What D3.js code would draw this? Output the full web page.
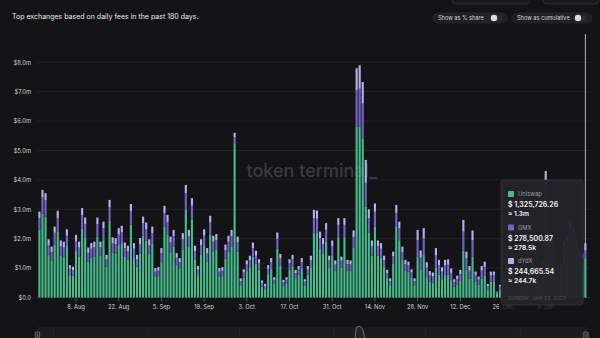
<!DOCTYPE html>
<html><head><meta charset="utf-8">
<script src="https://cdn.jsdelivr.net/npm/d3@7"></script>
<style>
html,body{margin:0;padding:0;background:#141417;}
svg{display:block;font-family:Inter,"Noto Sans",sans-serif;}
</style></head>
<body><svg id="c" width="600" height="338"></svg>
<script>
const title = "Top exchanges based on daily fees in the past 180 days.";
const startDate = "2022-07-27";
const endDate = "2023-01-22";
const seriesNames = ["Uniswap", "GMX", "dYdX"];
// daily fees in $m
const uniswap = [
2.30,2.85,2.75,1.45,1.25,1.80,2.25,1.42,1.40,1.75,
0.78,0.74,1.58,1.40,2.35,2.05,1.22,1.36,1.40,2.08,
1.42,1.95,1.05,2.60,1.52,1.50,1.78,1.85,1.38,1.30,
2.48,1.37,1.05,1.50,2.10,1.93,1.47,1.82,0.70,0.72,
1.22,2.42,2.15,1.54,1.73,1.10,0.97,1.64,3.00,1.73,
2.65,1.30,0.76,1.47,1.75,1.23,2.13,1.57,1.62,0.70,
0.72,1.33,1.57,1.74,5.25,1.55,0.42,0.67,0.90,1.03,
1.39,1.16,0.94,0.37,0.28,0.79,0.97,0.46,1.66,1.08,
0.39,0.46,0.94,1.06,0.66,0.77,0.97,0.41,0.77,1.03,
2.20,2.20,1.66,1.50,1.90,1.03,1.44,0.90,2.05,1.01,
2.05,0.92,0.90,1.70,5.80,5.80,5.40,3.10,2.20,1.42,
2.40,1.42,1.36,1.03,0.66,0.43,1.14,2.40,1.95,1.27,
0.92,0.88,0.67,0.43,1.40,0.96,1.45,0.72,0.54,0.51,
1.01,0.77,0.62,0.77,0.78,0.59,0.37,0.44,0.56,1.60,
0.94,0.64,1.38,0.53,0.43,0.64,0.73,0.27,0.53,0.53,
0.12,0.26,0.63,0.79,0.71,0.55,0.39,0.47,0.71,0.63,
0.55,0.71,0.86,0.55,0.47,0.94,3.20,1.40,1.48,1.17,
0.86,0.79,1.40,1.56,1.96,1.80,1.48,1.17,1.09,1.3257];
const gmx = [
0.40,0.55,0.55,0.33,0.30,0.40,0.45,0.32,0.30,0.35,
0.20,0.19,0.34,0.30,0.45,0.44,0.30,0.30,0.30,0.42,
0.29,0.40,0.25,0.47,0.33,0.32,0.36,0.37,0.30,0.28,
0.45,0.29,0.25,0.32,0.42,0.40,0.31,0.37,0.18,0.19,
0.28,0.45,0.42,0.33,0.36,0.25,0.23,0.34,0.55,0.36,
0.47,0.28,0.19,0.31,0.36,0.27,0.42,0.33,0.33,0.18,
0.19,0.28,0.33,0.35,0.20,0.32,0.14,0.18,0.22,0.24,
0.29,0.26,0.22,0.13,0.11,0.19,0.23,0.14,0.34,0.25,
0.13,0.14,0.22,0.24,0.17,0.18,0.23,0.13,0.18,0.24,
0.50,0.48,0.36,0.32,0.40,0.24,0.31,0.22,0.42,0.24,
0.42,0.22,0.22,0.36,1.25,1.30,1.20,0.80,0.50,0.32,
0.52,0.32,0.30,0.24,0.17,0.13,0.26,0.48,0.40,0.28,
0.22,0.21,0.18,0.13,0.55,0.40,0.56,0.30,0.22,0.21,
0.42,0.32,0.26,0.32,0.33,0.25,0.16,0.19,0.24,0.64,
0.39,0.27,0.56,0.22,0.18,0.27,0.31,0.12,0.22,0.22,
0.05,0.11,0.16,0.19,0.18,0.15,0.13,0.14,0.18,0.16,
0.15,0.18,0.21,0.15,0.14,0.22,0.65,0.31,0.32,0.27,
0.21,0.19,0.31,0.34,0.41,0.38,0.32,0.27,0.25,0.2785];
const dydx = [
0.22,0.26,0.25,0.20,0.18,0.21,0.25,0.20,0.20,0.22,
0.12,0.12,0.21,0.20,0.24,0.23,0.18,0.19,0.20,0.22,
0.19,0.23,0.15,0.25,0.20,0.20,0.22,0.22,0.19,0.18,
0.25,0.19,0.15,0.20,0.23,0.22,0.20,0.22,0.12,0.12,
0.18,0.25,0.24,0.20,0.21,0.16,0.14,0.21,0.28,0.21,
0.26,0.18,0.12,0.20,0.21,0.18,0.23,0.20,0.21,0.12,
0.12,0.19,0.20,0.21,0.15,0.20,0.09,0.11,0.14,0.15,
0.19,0.17,0.14,0.08,0.07,0.12,0.14,0.09,0.21,0.15,
0.08,0.09,0.14,0.15,0.11,0.12,0.14,0.08,0.12,0.15,
0.28,0.28,0.22,0.20,0.23,0.15,0.19,0.14,0.23,0.14,
0.23,0.14,0.14,0.22,0.75,0.80,0.73,0.78,0.30,0.20,
0.28,0.20,0.19,0.15,0.11,0.09,0.16,0.27,0.23,0.18,
0.14,0.13,0.11,0.09,0.35,0.24,0.35,0.18,0.14,0.13,
0.25,0.19,0.15,0.19,0.19,0.15,0.09,0.11,0.14,0.40,
0.23,0.16,0.34,0.13,0.10,0.16,0.18,0.07,0.13,0.13,
0.03,0.06,0.11,0.12,0.11,0.10,0.08,0.09,0.11,0.11,
0.10,0.11,0.13,0.10,0.09,0.14,0.45,0.19,0.20,0.16,
0.13,0.12,0.19,0.20,0.23,0.22,0.20,0.16,0.16,0.2447];
const yTicks = [0,1,2,3,4,5,6,7,8];
const yTickLabels = ["$0.0","$1.0m","$2.0m","$3.0m","$4.0m","$5.0m","$6.0m","$7.0m","$8.0m"];
const xTickDates = ["2022-08-08","2022-08-22","2022-09-05","2022-09-19","2022-10-03","2022-10-17","2022-10-31","2022-11-14","2022-11-28","2022-12-12","2022-12-26","2023-01-09"];
const xTickLabels = ["8. Aug","22. Aug","5. Sep","19. Sep","3. Oct","17. Oct","31. Oct","14. Nov","28. Nov","12. Dec","26. Dec","9. Jan"];
const monthStarts = ["2022-08-01","2022-09-01","2022-10-01","2022-11-01","2022-12-01","2023-01-01"];
const toggleLabels = ["Show as % share","Show as cumulative"];
const tooltipValues = ["$ 1,325,726.26","$ 278,500.87","$ 244,665.54"];
const tooltipApprox = ["\u2248 1.3m","\u2248 278.5k","\u2248 244.7k"];
const tooltipDate = "SUNDAY, JAN 22, 2023";
const watermark = "token terminal_";

const colors = {Uniswap:"#45ba8a", GMX:"#7064c6", dYdX:"#b7aef2"};
const parse = d3.timeParse("%Y-%m-%d");
const days = d3.timeDay.range(parse(startDate), d3.timeDay.offset(parse(endDate), 1));
const rows = days.map((d,i)=>({date:d, Uniswap:uniswap[i], GMX:gmx[i], dYdX:dydx[i]}));
const stacked = d3.stack().keys(seriesNames)(rows);

const svg = d3.select("#c");
svg.append("rect").attr("width",600).attr("height",338).attr("fill","#141417");

const x = d3.scaleBand().domain(days.map(d=>+d)).range([37.9, 586.9]).paddingInner(0.3).paddingOuter(0.15);
const y = d3.scaleLinear().domain([0,8]).range([297.5, 62.3]);

// top partial buttons
svg.append("rect").attr("x",452).attr("y",-12).attr("width",78).attr("height",16).attr("rx",4).attr("fill","#1a1a1e").attr("stroke","#2f2f35");
svg.append("rect").attr("x",543).attr("y",-12).attr("width",56).attr("height",16).attr("rx",4).attr("fill","#1a1a1e").attr("stroke","#2f2f35");

// title
svg.append("text").attr("x",12).attr("y",19).attr("fill","#e8e8ea").attr("font-size",7).text(title);

// toggles
const toggles = [{x:433,w:74,kx:494},{x:512,w:80,kx:578}];
toggles.forEach((t,i)=>{
  const g = svg.append("g");
  g.append("rect").attr("x",t.x).attr("y",13).attr("width",t.w).attr("height",10).attr("rx",5).attr("fill","#1f1f24").attr("stroke","#2c2c32").attr("stroke-width",0.6);
  g.append("rect").attr("x",t.kx-5).attr("y",14.5).attr("width",14).attr("height",7).attr("rx",3.5).attr("fill","#2a2a30");
  g.append("circle").attr("cx",t.kx).attr("cy",18).attr("r",3.2).attr("fill","#dcdcdc");
  g.append("text").attr("x",t.x+5).attr("y",20.2).attr("fill","#d6d6d8").attr("font-size",5.6).text(toggleLabels[i]);
});

// gridlines
svg.append("g").selectAll("line").data(yTicks).join("line")
  .attr("x1",37).attr("x2",590).attr("y1",d=>y(d)).attr("y2",d=>y(d))
  .attr("stroke",d=>d===0?"#34343a":"#26262b").attr("stroke-width",0.8);

// y axis
const yAxis = svg.append("g").attr("transform","translate(33,0)")
  .call(d3.axisLeft(y).tickValues(yTicks).tickSize(0).tickPadding(2).tickFormat((d,i)=>yTickLabels[i]));
yAxis.select(".domain").remove();
yAxis.selectAll("text").attr("fill","#cfcfd2").attr("font-size",5.8).attr("font-family","Inter,sans-serif");

// watermark
svg.append("text").attr("x",312).attr("y",177).attr("text-anchor","middle").attr("fill","#3a3a40").attr("font-size",18).attr("font-weight",500).text(watermark);

// crosshair line
const lastX = x(+days[days.length-1]) + x.bandwidth()/2;
svg.append("line").attr("x1",lastX).attr("x2",lastX).attr("y1",34).attr("y2",297.5).attr("stroke","#c8c8cc").attr("stroke-width",0.9);

// bars
svg.append("g").selectAll("g").data(stacked).join("g").attr("fill",d=>colors[d.key])
  .selectAll("rect").data(d=>d).join("rect")
  .attr("x",d=>x(+d.data.date)).attr("width",x.bandwidth())
  .attr("y",d=>y(d[1])).attr("height",d=>Math.max(0,y(d[0])-y(d[1])));

// x axis
const xAxis = svg.append("g").attr("transform","translate(0,297.5)")
  .call(d3.axisBottom(x).tickValues(xTickDates.map(s=>+parse(s))).tickSize(4).tickPadding(3).tickFormat((d,i)=>xTickLabels[i]));
xAxis.select(".domain").remove();
xAxis.selectAll("line").attr("stroke","#55555b");
xAxis.selectAll("text").attr("fill","#cfcfd2").attr("font-size",5.8).attr("font-family","Inter,sans-serif");

// navigator
const nav = svg.append("g");
nav.append("rect").attr("x",37).attr("y",327).attr("width",550).attr("height",14).attr("fill","#1b1b20");
nav.selectAll("line.m").data(monthStarts).join("line").attr("class","m")
  .attr("x1",d=>x(+parse(d))).attr("x2",d=>x(+parse(d))).attr("y1",327).attr("y2",338)
  .attr("stroke","#2b2b31").attr("stroke-width",0.8);
const ny = d3.scaleLinear().domain([0,8]).range([368,326]);
const navArea = d3.area().x(d=>x(+d.data.date)+x.bandwidth()/2).y0(368).y1(d=>ny(d[1])).curve(d3.curveMonotoneX);
const navLine = d3.line().x(d=>x(+d.data.date)+x.bandwidth()/2).y(d=>ny(d[1])).curve(d3.curveMonotoneX);
const topLayer = stacked[stacked.length-1];
nav.append("path").datum(topLayer).attr("d",navArea).attr("fill","#ffffff").attr("fill-opacity",0.04);
nav.append("path").datum(topLayer).attr("d",navLine).attr("fill","none").attr("stroke","#8c8c92").attr("stroke-width",0.8);
[37.5,586].forEach(hx=>{
  nav.append("rect").attr("x",hx-2.2).attr("y",332).attr("width",4.4).attr("height",9).attr("rx",1).attr("fill","#2a2a2f").attr("stroke","#9a9aa0").attr("stroke-width",0.6);
  nav.append("line").attr("x1",hx).attr("x2",hx).attr("y1",334).attr("y2",339).attr("stroke","#9a9aa0").attr("stroke-width",0.5);
});

// tooltip (with soft shadow that dims labels beneath)
const tt = svg.append("g");
tt.append("rect").attr("x",499).attr("y",300).attr("width",86).attr("height",14).attr("rx",4)
  .attr("fill","#141417").attr("fill-opacity",0.8);
tt.append("rect").attr("x",501).attr("y",180).attr("width",82).attr("height",125).attr("rx",3)
  .attr("fill","#242428").attr("fill-opacity",0.97).attr("stroke","#3a3a40").attr("stroke-width",0.7);
const blockY = [191, 224.5, 258];
seriesNames.forEach((k,i)=>{
  const by = blockY[i];
  tt.append("rect").attr("x",508).attr("y",by).attr("width",6).attr("height",6).attr("rx",0.8).attr("fill",colors[k]);
  tt.append("text").attr("x",518).attr("y",by+5.4).attr("fill","#9c9ca2").attr("font-size",5.8).text(k);
  tt.append("text").attr("x",508).attr("y",by+16).attr("fill","#f2f2f4").attr("font-size",7).attr("font-weight",600).text(tooltipValues[i]);
  tt.append("text").attr("x",508).attr("y",by+25).attr("fill","#f2f2f4").attr("font-size",6.6).attr("font-weight",600).text(tooltipApprox[i]);
});
tt.append("text").attr("x",508).attr("y",299.5).attr("fill","#505056").attr("font-size",5.2).text(tooltipDate);
</script>
</body></html>
